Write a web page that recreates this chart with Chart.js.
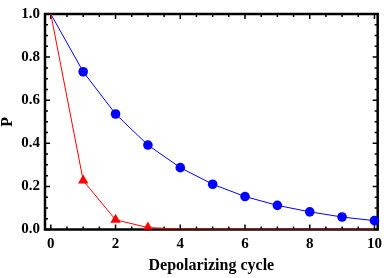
<!DOCTYPE html>
<html>
<head>
<meta charset="utf-8">
<script src="https://cdn.jsdelivr.net/npm/chart.js@4"></script>
<style>
  html, body { margin: 0; padding: 0; background: #fff; }
  #wrap { width: 388px; height: 278px; }
</style>
</head>
<body>
<div id="wrap"><canvas id="myChart" width="388" height="278"></canvas></div>
<script>
// depolarizing cycle number
var cycles = [0, 1, 2, 3, 4, 5, 6, 7, 8, 9, 10]
// blue circles
var blueP = [1.0, 0.732, 0.536, 0.392, 0.287, 0.210, 0.153, 0.112, 0.082, 0.058, 0.041]
// red triangles
var redP = [1.0, 0.227, 0.045, 0.009, 0.002, 0.0005, 0.0001, 0, 0, 0, 0]
var redShown = [false, true, true, true, false, false, false, false, false, false, false]
var xTicks = [0, 2, 4, 6, 8, 10]
var yTicks = [0.0, 0.2, 0.4, 0.6, 0.8, 1.0]

var font = "'Liberation Serif', 'Times New Roman', serif"

function toPoints(xs, ys){
    var pts = []
    for(i = 0; i < xs.length; i++){
        pts.push({x: xs[i], y: ys[i]})
    }
    return pts
}

// frame with inward ticks on all four sides
var frameTicks = {
    id: "frameTicks",
    beforeDatasetsDraw: function(chart){
        var c = chart.ctx
        var a = chart.chartArea
        var xs = chart.scales.x
        var ys = chart.scales.y
        c.save()
        c.strokeStyle = "#000"
        c.lineWidth = 1.5
        var v, px, len
        for(v = 0; v <= 10.001; v += 0.5){
            px = xs.getPixelForValue(v)
            len = (Math.abs(v / 2 - Math.round(v / 2)) < 0.01) ? 5 : 3
            c.beginPath()
            c.moveTo(px, a.bottom); c.lineTo(px, a.bottom - len)
            c.moveTo(px, a.top); c.lineTo(px, a.top + len)
            c.stroke()
        }
        for(v = 0; v <= 1.0001; v += 0.05){
            px = ys.getPixelForValue(v)
            len = (Math.abs(v / 0.2 - Math.round(v / 0.2)) < 0.01) ? 5 : 3
            c.beginPath()
            c.moveTo(a.left, px); c.lineTo(a.left + len, px)
            c.moveTo(a.right, px); c.lineTo(a.right - len, px)
            c.stroke()
        }
        c.lineWidth = 2.5
        c.strokeRect(a.left, a.top, a.right - a.left, a.bottom - a.top)
        c.restore()
    }
}

var ctx = document.querySelector("#myChart").getContext("2d")
var myChart = new Chart(ctx, {
    type: "line",
    data: {
        datasets: [{
            label: "red",
            data: toPoints(cycles, redP),
            borderColor: "rgb(255, 0, 0)",
            backgroundColor: "rgb(255, 0, 0)",
            borderWidth: 1,
            pointStyle: "triangle",
            pointRadius: redShown.map(function(s){ return s ? 6 : 0 }),
            pointBorderWidth: 0,
            clip: 0,
            tension: 0
        }, {
            label: "blue",
            data: toPoints(cycles, blueP),
            borderColor: "rgb(0, 0, 255)",
            backgroundColor: "rgb(0, 0, 255)",
            borderWidth: 1,
            pointStyle: "circle",
            pointRadius: cycles.map(function(c){ return c === 0 ? 0 : 4.8 }),
            pointBorderWidth: 0,
            clip: 6,
            tension: 0
        }]
    },
    options: {
        responsive: false,
        animation: false,
        events: [],
        layout: { padding: { top: 10.5, right: 5, left: 0, bottom: 0 } },
        plugins: { legend: { display: false }, tooltip: { enabled: false } },
        scales: {
            x: {
                type: "linear",
                min: -0.18,
                max: 10.1,
                afterBuildTicks: function(s){ s.ticks = xTicks.map(function(v){ return {value: v} }) },
                afterFit: function(s){ s.height = 48.5 },
                grid: { display: false, drawTicks: false },
                border: { display: false },
                ticks: {
                    color: "#000",
                    padding: 6,
                    maxRotation: 0,
                    font: { family: font, weight: "bold", size: 15 }
                },
                title: {
                    display: true,
                    text: "Depolarizing cycle",
                    color: "#000",
                    padding: { top: 0, bottom: 2.5 },
                    font: { family: font, weight: "bold", size: 16 }
                }
            },
            y: {
                type: "linear",
                min: 0,
                max: 1,
                afterBuildTicks: function(s){ s.ticks = yTicks.map(function(v){ return {value: v} }) },
                afterFit: function(s){ s.width = 45 },
                grid: { display: false, drawTicks: false },
                border: { display: false },
                ticks: {
                    color: "#000",
                    padding: 5,
                    callback: function(v){ return v.toFixed(1) },
                    font: { family: font, weight: "bold", size: 15 }
                },
                title: {
                    display: true,
                    text: "P",
                    color: "#000",
                    padding: { top: 0, bottom: 0 },
                    font: { family: font, weight: "bold", size: 16, lineHeight: 1 }
                }
            }
        }
    },
    plugins: [frameTicks]
})
</script>
</body>
</html>
